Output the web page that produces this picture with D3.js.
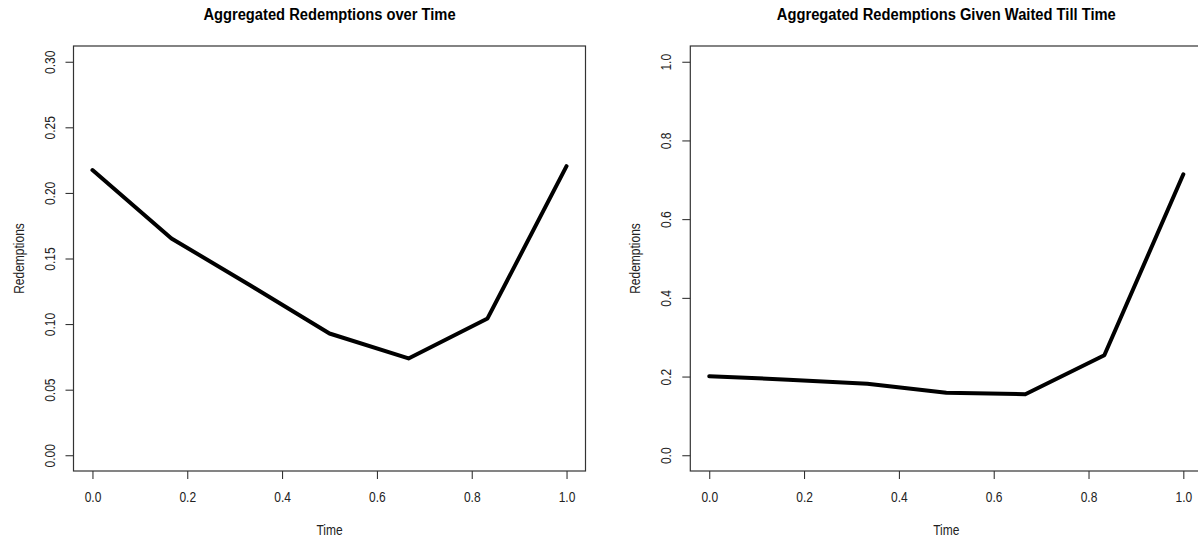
<!DOCTYPE html>
<html>
<head>
<meta charset="utf-8">
<script src="https://cdn.jsdelivr.net/npm/d3@7"></script>
<style>
  html, body { margin: 0; padding: 0; background: #fff; }
  svg { display: block; }
  text { font-family: "Liberation Sans", Arial, Helvetica, sans-serif; }
</style>
</head>
<body>
<svg id="chart" width="1198" height="540"></svg>
<script>
// ---- data ----
const time = [0, 1/6, 2/6, 3/6, 4/6, 5/6, 1];
const redemptionsOverTime = [0.2174, 0.1653, 0.1294, 0.0928, 0.0738, 0.1043, 0.2204];
const redemptionsGivenWaited = [0.201, 0.192, 0.182, 0.159, 0.155, 0.254, 0.714];
const xTicks = [0, 0.2, 0.4, 0.6, 0.8, 1.0];
const yTicksLeft = [0, 0.05, 0.10, 0.15, 0.20, 0.25, 0.30];
const yTicksRight = [0, 0.2, 0.4, 0.6, 0.8, 1.0];
const titles = ["Aggregated Redemptions over Time", "Aggregated Redemptions Given Waited Till Time"];
const xLabel = "Time";
const yLabel = "Redemptions";

const svg = d3.select("#chart");

function panel(opts) {
  const { left, right, top, bottom, values, yMax, yTicks, yFmt, title } = opts;
  const xExt = 0.04 * 1;
  const yExt = 0.04 * yMax;
  const x = d3.scaleLinear().domain([0 - xExt, 1 + xExt]).range([left, right]);
  const y = d3.scaleLinear().domain([0 - yExt, yMax + yExt]).range([bottom, top]);
  const g = svg.append("g");
  const cx = (left + right) / 2, cy = (top + bottom) / 2;

  // title
  g.append("text")
    .attr("transform", `translate(${cx},20) scale(0.92,1)`)
    .attr("text-anchor", "middle")
    .attr("font-size", 16)
    .attr("font-weight", "bold")
    .attr("fill", "#000")
    .text(title);

  // x axis
  const xAxis = g.append("g").attr("transform", `translate(0,${bottom})`)
    .call(d3.axisBottom(x).tickValues(xTicks).tickSize(8).tickFormat(d3.format(".1f")));
  xAxis.select(".domain").remove();
  xAxis.selectAll(".tick line").attr("stroke", "#222");
  xAxis.selectAll(".tick text")
    .attr("y", 0).attr("dy", 0)
    .attr("transform", "translate(0,31) scale(0.8,1)")
    .attr("font-size", 15).attr("fill", "#222")
    .attr("font-family", "Liberation Sans, Arial, sans-serif");

  // y axis
  const yAxis = g.append("g").attr("transform", `translate(${left},0)`)
    .call(d3.axisLeft(y).tickValues(yTicks).tickSize(8).tickFormat(d3.format(yFmt)));
  yAxis.select(".domain").remove();
  yAxis.selectAll(".tick line").attr("stroke", "#222");
  yAxis.selectAll(".tick text")
    .attr("x", 0).attr("dy", 0)
    .attr("transform", "translate(-19,0) rotate(-90) scale(0.8,1)")
    .attr("text-anchor", "middle")
    .attr("font-size", 15).attr("fill", "#222")
    .attr("font-family", "Liberation Sans, Arial, sans-serif");

  // box
  g.append("rect")
    .attr("x", left).attr("y", top)
    .attr("width", right - left).attr("height", bottom - top)
    .attr("fill", "none").attr("stroke", "#333").attr("stroke-width", 1.2);

  // axis labels
  g.append("text")
    .attr("transform", `translate(${cx},535) scale(0.8,1)`)
    .attr("text-anchor", "middle")
    .attr("font-size", 15).attr("fill", "#222")
    .text(xLabel);
  g.append("text")
    .attr("transform", `translate(${left - 50},${cy}) rotate(-90) scale(0.8,1)`)
    .attr("text-anchor", "middle")
    .attr("font-size", 15).attr("fill", "#222")
    .text(yLabel);

  // line
  const line = d3.line().x((d, i) => x(time[i])).y(d => y(d));
  g.append("path")
    .datum(values)
    .attr("d", line)
    .attr("fill", "none")
    .attr("stroke", "#000")
    .attr("stroke-width", 4)
    .attr("stroke-linejoin", "round")
    .attr("stroke-linecap", "round");
}

panel({ left: 73.5, right: 585.5, top: 46, bottom: 471,
        values: redemptionsOverTime, yMax: 0.30, yTicks: yTicksLeft, yFmt: ".2f", title: titles[0] });
panel({ left: 690.3, right: 1202.3, top: 46, bottom: 471,
        values: redemptionsGivenWaited, yMax: 1.0, yTicks: yTicksRight, yFmt: ".1f", title: titles[1] });
</script>
</body>
</html>
